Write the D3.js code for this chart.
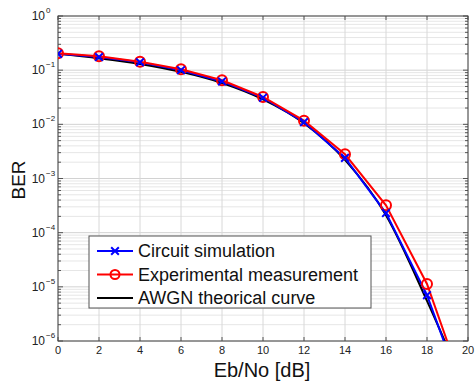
<!DOCTYPE html>
<html>
<head>
<meta charset="utf-8">
<script src="https://cdn.jsdelivr.net/npm/d3@7"></script>
<style>
  body { margin: 0; background: #fff; }
  text { font-family: "Liberation Sans", Arial, sans-serif; }
</style>
</head>
<body>
<div id="chart"></div>
<script>
// data
var ebno = [0, 2, 4, 6, 8, 10, 12, 14, 16, 18, 20];
var circuitSim = [0.2, 0.175, 0.14, 0.1, 0.062, 0.031, 0.011, 0.0024, 0.00023, 7e-6, 6e-8];
var experiment = [0.205, 0.18, 0.143, 0.104, 0.065, 0.032, 0.0117, 0.0028, 0.00032, 1.13e-5, 8e-8];
var awgnTheory = [0.2, 0.165, 0.13, 0.093, 0.058, 0.029, 0.0105, 0.0022, 0.00021, 5.5e-6, 1e-7];
var xTicks = [0, 2, 4, 6, 8, 10, 12, 14, 16, 18, 20];
var yExponents = [0, -1, -2, -3, -4, -5, -6];
var legendLabels = ["Circuit simulation", "Experimental measurement", "AWGN theorical curve"];

var W = 475, H = 381;
var pLeft = 58, pRight = 468, pTop = 16, pBottom = 341;

var svg = d3.select("#chart").append("svg")
  .attr("width", W).attr("height", H);

var x = d3.scaleLinear().domain([0, 20]).range([pLeft, pRight]);
var y = d3.scaleLog().domain([1e-6, 1]).range([pBottom, pTop]);

// minor values for log grid
var minorVals = [];
for (var e = -6; e < 0; e++) {
  for (var m = 2; m <= 9; m++) minorVals.push(m * Math.pow(10, e));
}

// grid
var grid = svg.append("g");
grid.selectAll(".ymin").data(minorVals).enter().append("line")
  .attr("x1", pLeft).attr("x2", pRight)
  .attr("y1", function(d){ return y(d); }).attr("y2", function(d){ return y(d); })
  .attr("stroke", "#e6e6e6").attr("stroke-width", 1);
grid.selectAll(".ymaj").data(yExponents).enter().append("line")
  .attr("x1", pLeft).attr("x2", pRight)
  .attr("y1", function(d){ return y(Math.pow(10, d)); }).attr("y2", function(d){ return y(Math.pow(10, d)); })
  .attr("stroke", "#d2d2d2").attr("stroke-width", 1);
grid.selectAll(".xmaj").data(xTicks).enter().append("line")
  .attr("y1", pTop).attr("y2", pBottom)
  .attr("x1", function(d){ return x(d); }).attr("x2", function(d){ return x(d); })
  .attr("stroke", "#d8d8d8").attr("stroke-width", 1);

// ticks (inside, on all four sides)
var ticks = svg.append("g").attr("stroke", "#555").attr("stroke-width", 1);
xTicks.forEach(function(d){
  ticks.append("line").attr("x1", x(d)).attr("x2", x(d)).attr("y1", pBottom).attr("y2", pBottom - 4);
  ticks.append("line").attr("x1", x(d)).attr("x2", x(d)).attr("y1", pTop).attr("y2", pTop + 4);
});
yExponents.forEach(function(d){
  var yy = y(Math.pow(10, d));
  ticks.append("line").attr("x1", pLeft).attr("x2", pLeft + 5).attr("y1", yy).attr("y2", yy);
  ticks.append("line").attr("x1", pRight).attr("x2", pRight - 5).attr("y1", yy).attr("y2", yy);
});
minorVals.forEach(function(d){
  var yy = y(d);
  ticks.append("line").attr("x1", pLeft).attr("x2", pLeft + 3).attr("y1", yy).attr("y2", yy);
  ticks.append("line").attr("x1", pRight).attr("x2", pRight - 3).attr("y1", yy).attr("y2", yy);
});

// box
svg.append("rect").attr("x", pLeft).attr("y", pTop)
  .attr("width", pRight - pLeft).attr("height", pBottom - pTop)
  .attr("fill", "none").attr("stroke", "#444").attr("stroke-width", 1);

// tick labels
svg.selectAll(".xl").data(xTicks).enter().append("text")
  .attr("x", function(d){ return x(d); }).attr("y", 354)
  .attr("text-anchor", "middle").attr("font-size", 11).attr("fill", "#222")
  .text(function(d){ return d; });

var yl = svg.selectAll(".yl").data(yExponents).enter().append("g")
  .attr("transform", function(d){ return "translate(0," + y(Math.pow(10, d)) + ")"; });
yl.append("text").attr("x", 45).attr("y", 4).attr("text-anchor", "end")
  .attr("font-size", 12).attr("fill", "#222").text("10");
yl.append("text").attr("x", 46).attr("y", -3).attr("text-anchor", "start")
  .attr("font-size", 8).attr("fill", "#222").text(function(d){ return d === 0 ? "0" : "\u2212" + (-d); });

// axis titles
svg.append("text").attr("x", 262).attr("y", 377).attr("text-anchor", "middle")
  .attr("font-size", 20).attr("fill", "#111").text("Eb/No [dB]");
svg.append("text").attr("transform", "translate(25,180) rotate(-90)")
  .attr("text-anchor", "middle").attr("font-size", 19).attr("fill", "#111").text("BER");

// curves
svg.append("clipPath").attr("id", "plotclip").append("rect")
  .attr("x", pLeft).attr("y", pTop).attr("width", pRight - pLeft).attr("height", pBottom - pTop);
var plot = svg.append("g").attr("clip-path", "url(#plotclip)");

function pts(vals){ return ebno.map(function(d, i){ return [d, vals[i]]; }); }

var lineStraight = d3.line().x(function(d){ return x(d[0]); }).y(function(d){ return y(d[1]); });
var lineSmooth = d3.line().curve(d3.curveMonotoneX).x(function(d){ return x(d[0]); }).y(function(d){ return y(d[1]); });

plot.append("path").attr("d", lineSmooth(pts(awgnTheory)))
  .attr("fill", "none").attr("stroke", "#000").attr("stroke-width", 2);
plot.append("path").attr("d", lineStraight(pts(circuitSim)))
  .attr("fill", "none").attr("stroke", "#0000ff").attr("stroke-width", 2);
plot.append("path").attr("d", lineStraight(pts(experiment)))
  .attr("fill", "none").attr("stroke", "#ff0000").attr("stroke-width", 2);

plot.selectAll(".om").data(pts(experiment)).enter().append("circle")
  .attr("cx", function(d){ return x(d[0]); }).attr("cy", function(d){ return y(d[1]); })
  .attr("r", 5).attr("fill", "none").attr("stroke", "#ff0000").attr("stroke-width", 2);
var cross = d3.symbol().type(d3.symbolX).size(40);
plot.selectAll(".xm").data(pts(circuitSim)).enter().append("path")
  .attr("transform", function(d){ return "translate(" + x(d[0]) + "," + y(d[1]) + ")"; })
  .attr("d", cross).attr("fill", "none").attr("stroke", "#0000ff").attr("stroke-width", 2);

// legend
var lg = svg.append("g").attr("transform", "translate(89,236)");
lg.append("rect").attr("width", 282).attr("height", 72)
  .attr("fill", "#fff").attr("stroke", "#555").attr("stroke-width", 1);
var colors = ["#0000ff", "#ff0000", "#000"];
legendLabels.forEach(function(t, i){
  var yy = 15 + i * 23.5;
  lg.append("line").attr("x1", 8).attr("x2", 44).attr("y1", yy).attr("y2", yy)
    .attr("stroke", colors[i]).attr("stroke-width", 2);
  if (i === 0) {
    lg.append("path").attr("transform", "translate(26," + yy + ")")
      .attr("d", cross).attr("fill", "none").attr("stroke", colors[i]).attr("stroke-width", 2);
  } else if (i === 1) {
    lg.append("circle").attr("cx", 26).attr("cy", yy).attr("r", 4.5)
      .attr("fill", "none").attr("stroke", colors[i]).attr("stroke-width", 2);
  }
  lg.append("text").attr("x", 49).attr("y", yy + 6).attr("font-size", 18)
    .attr("fill", "#111").text(t);
});
</script>
</body>
</html>
